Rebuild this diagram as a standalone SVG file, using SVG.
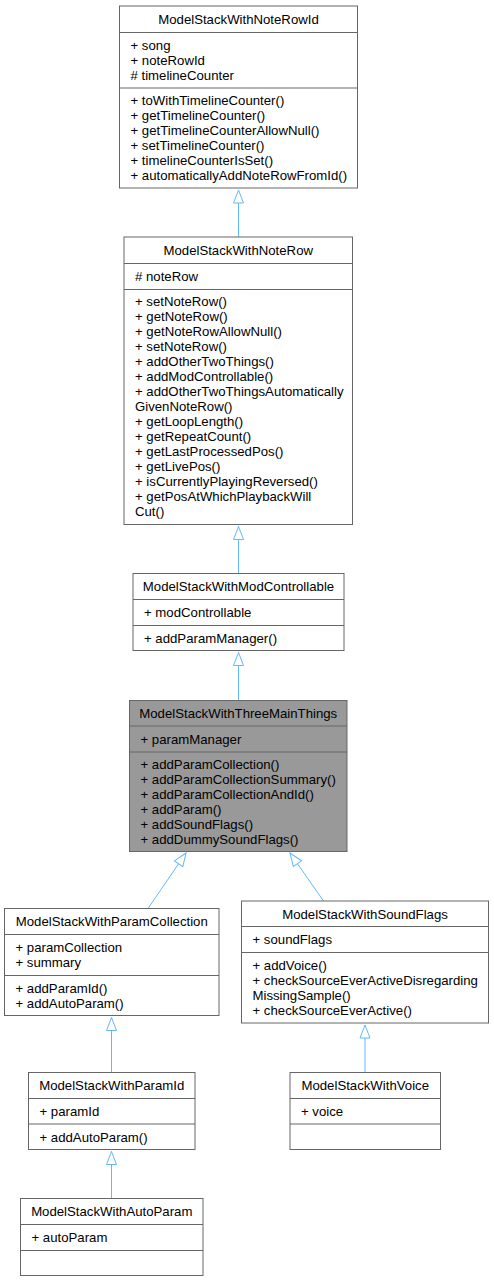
<svg xmlns="http://www.w3.org/2000/svg" width="494" height="1282" viewBox="0 0 494 1282">
<style>
text{font-family:"Liberation Sans",Arial,Helvetica,sans-serif;font-size:13.2px;fill:#000}
.t{text-anchor:middle}
.box{fill:#fff;stroke:#666;stroke-width:1}
.cur{fill:#999;stroke:#666;stroke-width:1}
.sep{stroke:#666;stroke-width:1}
.edge{stroke:#63b8ff;stroke-width:1;fill:none;marker-end:url(#inh)}
</style>
<defs>
<marker id="inh" markerUnits="userSpaceOnUse" markerWidth="16" markerHeight="14" refX="13" refY="0" viewBox="-1 -7 16 14" orient="auto" overflow="visible">
<path d="M0,-5 L13,0 L0,5 Z" fill="#fff" stroke="#63b8ff" stroke-width="1"/>
</marker>
</defs>
<g id="connectors">
<line class="edge" x1="238.5" y1="237" x2="238.5" y2="190"/>
<line class="edge" x1="238.5" y1="573.5" x2="238.5" y2="526.5"/>
<line class="edge" x1="238.5" y1="700.5" x2="238.5" y2="652.5"/>
<line class="edge" x1="148" y1="908.5" x2="186" y2="853"/>
<line class="edge" x1="323.5" y1="901" x2="290" y2="853"/>
<line class="edge" x1="111.5" y1="1072.5" x2="111.5" y2="1017.5"/>
<line class="edge" x1="365" y1="1072.5" x2="365" y2="1025"/>
<line class="edge" x1="111.5" y1="1198.5" x2="111.5" y2="1151.5"/>
</g>
<g id="ModelStackWithNoteRowId">
<rect class="box" x="119.5" y="6" width="238" height="182"/>
<line class="sep" x1="119.5" y1="32.5" x2="357.5" y2="32.5"/>
<line class="sep" x1="119.5" y1="88" x2="357.5" y2="88"/>
<text class="t" x="238.5" y="23.5">ModelStackWithNoteRowId</text>
<text x="130.5" y="50">+ song</text>
<text x="130.5" y="65">+ noteRowId</text>
<text x="130.5" y="80"># timelineCounter</text>
<text x="130.5" y="105">+ toWithTimelineCounter()</text>
<text x="130.5" y="120">+ getTimelineCounter()</text>
<text x="130.5" y="135">+ getTimelineCounterAllowNull()</text>
<text x="130.5" y="150">+ setTimelineCounter()</text>
<text x="130.5" y="165">+ timelineCounterIsSet()</text>
<text x="130.5" y="180">+ automaticallyAddNoteRowFromId()</text>
</g>
<g id="ModelStackWithNoteRow">
<rect class="box" x="124" y="237" width="228.5" height="287.5"/>
<line class="sep" x1="124" y1="263.5" x2="352.5" y2="263.5"/>
<line class="sep" x1="124" y1="289.5" x2="352.5" y2="289.5"/>
<text class="t" x="238.25" y="254.5">ModelStackWithNoteRow</text>
<text x="135" y="281"># noteRow</text>
<text x="135" y="306">+ setNoteRow()</text>
<text x="135" y="321">+ getNoteRow()</text>
<text x="135" y="336">+ getNoteRowAllowNull()</text>
<text x="135" y="351">+ setNoteRow()</text>
<text x="135" y="366">+ addOtherTwoThings()</text>
<text x="135" y="381">+ addModControllable()</text>
<text x="135" y="396">+ addOtherTwoThingsAutomatically</text>
<text x="135" y="411">GivenNoteRow()</text>
<text x="135" y="426">+ getLoopLength()</text>
<text x="135" y="441">+ getRepeatCount()</text>
<text x="135" y="456">+ getLastProcessedPos()</text>
<text x="135" y="471">+ getLivePos()</text>
<text x="135" y="486">+ isCurrentlyPlayingReversed()</text>
<text x="135" y="501">+ getPosAtWhichPlaybackWill</text>
<text x="135" y="516">Cut()</text>
</g>
<g id="ModelStackWithModControllable">
<rect class="box" x="133" y="573.5" width="211" height="77"/>
<line class="sep" x1="133" y1="599.5" x2="344" y2="599.5"/>
<line class="sep" x1="133" y1="625.5" x2="344" y2="625.5"/>
<text class="t" x="238.5" y="591">ModelStackWithModControllable</text>
<text x="144" y="617">+ modControllable</text>
<text x="144" y="642.5">+ addParamManager()</text>
</g>
<g id="ModelStackWithThreeMainThings">
<rect class="cur" x="129.5" y="700.5" width="217.5" height="151"/>
<line class="sep" x1="129.5" y1="726" x2="347" y2="726"/>
<line class="sep" x1="129.5" y1="752" x2="347" y2="752"/>
<text class="t" x="238.25" y="718">ModelStackWithThreeMainThings</text>
<text x="140.5" y="743.5">+ paramManager</text>
<text x="140.5" y="769">+ addParamCollection()</text>
<text x="140.5" y="784">+ addParamCollectionSummary()</text>
<text x="140.5" y="799">+ addParamCollectionAndId()</text>
<text x="140.5" y="814">+ addParam()</text>
<text x="140.5" y="829">+ addSoundFlags()</text>
<text x="140.5" y="844">+ addDummySoundFlags()</text>
</g>
<g id="ModelStackWithParamCollection">
<rect class="box" x="4.5" y="908.5" width="214.5" height="107"/>
<line class="sep" x1="4.5" y1="934.5" x2="219" y2="934.5"/>
<line class="sep" x1="4.5" y1="975.5" x2="219" y2="975.5"/>
<text class="t" x="111.75" y="926">ModelStackWithParamCollection</text>
<text x="15.5" y="952">+ paramCollection</text>
<text x="15.5" y="967">+ summary</text>
<text x="15.5" y="992.5">+ addParamId()</text>
<text x="15.5" y="1007.5">+ addAutoParam()</text>
</g>
<g id="ModelStackWithSoundFlags">
<rect class="box" x="241.5" y="901" width="247" height="122"/>
<line class="sep" x1="241.5" y1="926.5" x2="488.5" y2="926.5"/>
<line class="sep" x1="241.5" y1="952.5" x2="488.5" y2="952.5"/>
<text class="t" x="365" y="918.5">ModelStackWithSoundFlags</text>
<text x="252.5" y="944">+ soundFlags</text>
<text x="252.5" y="969.5">+ addVoice()</text>
<text x="252.5" y="984.5">+ checkSourceEverActiveDisregarding</text>
<text x="252.5" y="999.5">MissingSample()</text>
<text x="252.5" y="1014.5">+ checkSourceEverActive()</text>
</g>
<g id="ModelStackWithParamId">
<rect class="box" x="28.5" y="1072.5" width="166.5" height="77"/>
<line class="sep" x1="28.5" y1="1098.5" x2="195" y2="1098.5"/>
<line class="sep" x1="28.5" y1="1124" x2="195" y2="1124"/>
<text class="t" x="111.75" y="1090">ModelStackWithParamId</text>
<text x="39.5" y="1116">+ paramId</text>
<text x="39.5" y="1141.5">+ addAutoParam()</text>
</g>
<g id="ModelStackWithVoice">
<rect class="box" x="290" y="1072.5" width="150.5" height="77"/>
<line class="sep" x1="290" y1="1098.5" x2="440.5" y2="1098.5"/>
<line class="sep" x1="290" y1="1124" x2="440.5" y2="1124"/>
<text class="t" x="365.25" y="1090">ModelStackWithVoice</text>
<text x="301" y="1116">+ voice</text>
</g>
<g id="ModelStackWithAutoParam">
<rect class="box" x="20.5" y="1198.5" width="182.5" height="77"/>
<line class="sep" x1="20.5" y1="1224.5" x2="203" y2="1224.5"/>
<line class="sep" x1="20.5" y1="1250.5" x2="203" y2="1250.5"/>
<text class="t" x="111.75" y="1216">ModelStackWithAutoParam</text>
<text x="31.5" y="1242">+ autoParam</text>
</g>
</svg>
